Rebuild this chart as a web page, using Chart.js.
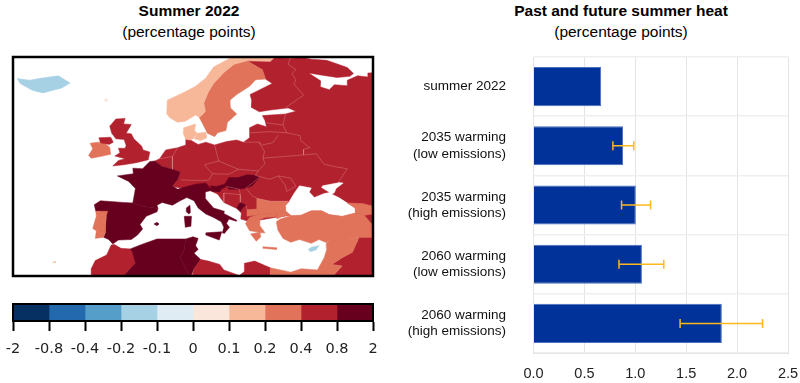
<!DOCTYPE html>
<html>
<head>
<meta charset="utf-8">
<script src="https://cdn.jsdelivr.net/npm/chart.js@4/dist/chart.umd.min.js"></script>
<style>
html, body { margin: 0; background: #fff; overflow: hidden; }
body { width: 800px; height: 383px; position: relative; font-family: "Liberation Sans", Arial, sans-serif; color: #000; }
canvas { position: absolute; }
.titulo { position: absolute; text-align: center; font-size: 15.5px; line-height: 21px; }
.titulo b { display: block; }
</style>
</head>
<body>
<div class="titulo" style="left:0;width:378px;top:0"><b>Summer 2022</b>(percentage points)</div>
<div class="titulo" style="left:442px;width:358px;top:0"><b>Past and future summer heat</b>(percentage points)</div>
<canvas id="mapa" width="384" height="235" style="left:0;top:50px"></canvas>
<canvas id="escala" width="384" height="65" style="left:0;top:295px"></canvas>
<canvas id="barras" width="400" height="333" style="left:400px;top:50px"></canvas>
<script>
// colour bins of the map and the colour bar
const binLabels = ['-2', '-0.8', '-0.4', '-0.2', '-0.1', '0', '0.1', '0.2', '0.4', '0.8', '2'];
const binColors = ['#053061', '#2369ad', '#549ec9', '#a6d0e4', '#e0ecf4', '#fbe6db', '#f7b799', '#e0735a', '#b2212e', '#67001f'];

// bar chart
const categorias = ['summer 2022', ['2035 warming', '(low emissions)'], ['2035 warming', '(high emissions)'], ['2060 warming', '(low emissions)'], ['2060 warming', '(high emissions)']];
const valores = [0.665, 0.88, 1.005, 1.065, 1.85];
const erroMin = [null, 0.78, 0.865, 0.84, 1.44];
const erroMax = [null, 0.985, 1.15, 1.28, 2.25];

// outlines, [lon, lat]
const europa = [[24.1,65.8],[23.5,67.5],[20.5,69.1],[22,70.5],[31,70.5],[31,69.8],[33,69.4],[36,69.2],[40,67.9],[41.2,66.8],[40.5,66.3],[38,66.1],[34.5,66.6],[32.5,66.9],[34.8,65.5],[34.7,64.4],[36.5,63.9],[37.5,64.8],[40,64.6],[40,65.6],[42,66.4],[44,66.2],[44,66.9],[46,67],[46,41],[29,41.2],[26,40.8],[21,40],[19.3,40.5],[19.4,41.6],[18.5,42.4],[16,43.5],[14.8,45],[13.7,45.5],[12,46],[8,46],[6.5,46.3],[6,46.5],[7,47.6],[7.5,49],[6,49.5],[4,50],[2.6,51],[3.5,51.4],[4.7,53],[7,53.4],[8.6,53.9],[8.6,55],[9.5,54.8],[11,54],[12.5,54.4],[14.2,53.9],[16.5,54.5],[18.5,54.8],[19.8,54.4],[21,55.2],[21,57],[22.5,57.7],[24.3,57.2],[24,58.3],[23.5,59.2],[28,59.5],[30,60],[28.5,60.6],[25,60.2],[22.9,59.9],[21.3,60.7],[21.4,62],[21.1,63],[22.8,63.8],[25.4,65],[24.1,65.8]];
const marNegro = [[28,41.7],[27.6,42.7],[28.6,43.5],[29.7,45.2],[30.7,46.5],[33,46.1],[32.6,45.4],[33.6,44.4],[35.5,45.1],[36.6,45.3],[35,46.2],[35.2,46.5],[38.5,47.1],[39.2,47],[37.8,46],[37.5,45.3],[37,45],[38.5,44.3],[40,43.4],[41.5,42.5],[41.6,41.6],[39,41],[36.5,41.3],[35,42],[33,42],[31,41.2],[29,41.2]];
const suecia = [[11.2,58.9],[12,57.5],[12.8,56],[14.2,55.4],[14.8,56.1],[16.4,56.5],[16.7,58],[18.5,59.5],[17.3,60.6],[17.2,62],[18.5,63],[21,64.5],[22.2,65.7],[24.1,65.8],[23.5,67.5],[20.5,69.1],[18,68.5],[16,67],[14,65],[13,63.5],[12.1,61.5],[12.4,60],[11.8,59.3]];
const noruega = [[4.9,59.5],[5.5,58.8],[7,58],[8.5,58.2],[10.5,59.3],[11.2,58.9],[11.8,59.3],[12.4,60],[12.1,61.5],[13,63.5],[14,65],[16,67],[18,68.5],[20.5,69.1],[25,69],[26,69.8],[29,69.6],[31,69.8],[31,71],[20,71],[17,69.5],[14,68],[12.5,66],[10.5,64.5],[8,63.3],[5,62]];
const jutlandia = [[8.6,54.9],[8.1,56],[8.2,57],[10.5,57.7],[10.3,56.5],[10.8,56],[10,55],[9.5,54.8]];
const zelandia = [[10.8,56],[12.5,56.2],[12.7,55.2],[11.5,54.7],[10.2,55]];
const faroe = [[-7.3,62],[-6.8,62.3],[-6.5,61.9],[-6.9,61.7]];
const britanha = [[-5.6,50.1],[-3.5,50.3],[-1,50.7],[1.3,51.2],[1.6,52.6],[0.3,53],[0,53.7],[-1.5,55],[-2,55.9],[-3,56],[-2,57.6],[-3.5,57.7],[-3.2,58.7],[-5,58.6],[-6.2,57.3],[-5.8,56],[-5,55],[-3.4,54.9],[-3,53.8],[-3.2,53.3],[-4.5,53.3],[-4.2,52.5],[-5.2,51.9],[-3.2,51.4],[-4.5,51.1]];
const irlanda = [[-6,52.2],[-6.2,53.5],[-7.3,54.3],[-8,54.3],[-8.5,54.4],[-10,54.2],[-9.5,53.2],[-10.3,52],[-9.8,51.5],[-8,51.8]];
const irlandaNorte = [[-8.3,55.2],[-6,55.3],[-5.5,54.4],[-6.3,54],[-8,54.3]];
const islandia = [[-24.2,65.9],[-21.7,65.6],[-20,65.9],[-16.2,66.4],[-13.9,65.1],[-15.5,64.2],[-19.2,63.3],[-21.3,63.8],[-23.6,65]];
const franca = [[-1.7,43.4],[-1.2,46],[-2.5,47.3],[-4.7,48.3],[-1.6,48.7],[-1.7,49.7],[0.2,49.6],[1.6,50.9],[2.6,51],[4,50],[6,49.5],[7.5,49],[7,47.6],[6,46.5],[7,45.9],[7,44],[7.5,43.8],[6,43],[4,43.5],[3,43],[3.2,42.4],[0.7,42.7]];
const espanha = [[-9.2,43.1],[-8,43.8],[-3.5,43.5],[-1.7,43.4],[0.7,42.7],[3.2,42.4],[3,41.8],[0.9,41],[-0.3,39.5],[0.2,38.7],[-0.8,37.6],[-2,36.8],[-4.5,36.7],[-5.6,36],[-6.4,36.8],[-7.4,37.2],[-7,38],[-7,39.5],[-6.8,41],[-8.1,41.9],[-8.9,41.9]];
const portugal = [[-8.9,41.9],[-8.1,41.9],[-6.6,41.9],[-6.9,41],[-7,39.5],[-7.1,38],[-7.4,37.2],[-9,37],[-8.8,38.4],[-9.5,38.8],[-8.8,41]];
const maiorca = [[2.4,39.6],[3,39.9],[3.4,39.6],[3,39.3]];
const italia = [[7,45.9],[7,44],[7.5,43.8],[8.8,44.4],[10.2,43.8],[11,42.5],[12.5,41.4],[14,40.8],[15.5,40],[16,39],[15.7,38],[16.1,37.9],[17.1,39],[16.5,39.7],[17,40.5],[18.4,40.1],[18.5,40.3],[16,41.5],[16.1,41.9],[14,42.5],[12.4,44.2],[12.4,45.4],[13.7,45.7],[12.5,47],[10.5,46.8],[8.5,46.3]];
const sicilia = [[12.5,38],[15.6,38.2],[15.1,36.7],[12.5,37.6]];
const sardenha = [[8.3,41],[9.7,41],[9.6,39.2],[8.5,39]];
const corsega = [[8.7,42.5],[9.4,43],[9.5,41.7],[9.2,41.4],[8.7,41.8]];
const hungria = [[16.2,46.9],[17,48],[18.8,48],[20.5,48.5],[22.1,48.4],[22.9,48],[21.5,46.5],[20.3,46.1],[18.8,45.9],[17,45.9]];
const eslovenia = [[13.4,46.5],[14.5,46.4],[16.2,46.8],[16.5,46.4],[15.5,45.9],[15.2,45.4],[13.7,45.5]];
const montenegro = [[18.5,42.5],[19.2,43.5],[20.3,43],[19.6,42.5],[19.3,41.9]];
const grecia = [[20.2,39.7],[21,38.4],[22.9,38.1],[21.2,37.8],[22.3,36.5],[23.2,37.3],[23,38],[24,38],[23,39.3],[23,40.4],[24,40.8],[26.2,40.9],[26.3,41.7],[24.5,41.5],[22.7,41.3],[21,40.8]];
const macedonia = [[20.5,41],[20.5,42.2],[22.4,42.3],[23,41.3]];
const bulgaria = [[22.4,42.3],[22.4,44.2],[25,43.7],[28.6,43.7],[27.9,42.8],[28,42],[26.3,41.7],[24.5,41.5],[23,41.3]];
const creta = [[23.6,35.5],[26.3,35.3],[26.2,35],[23.6,35.2]];
const turquia = [[26.2,40],[27,40.5],[29,41.1],[31,41.2],[33,42],[35,42],[36.5,41.3],[39,41],[41.6,41.6],[43.5,41.1],[44.7,39.7],[44.7,37.2],[42.3,37.2],[40,36.9],[36.6,36.9],[36,36.2],[34.5,36.8],[33,36.1],[30.7,36.8],[29,36.3],[27.5,37],[26.5,38.5]];
const tracia = [[26.3,41.7],[28,42],[29,41.2],[27.5,41],[26.3,40.5]];
const georgia = [[40,43.4],[41.5,42.5],[41.6,41.6],[43.5,41.1],[46,41.2],[46,42.6],[43,43.3]];
const caucaso = [[43.5,41.1],[46,41.5],[46,39],[44.7,39.7]];
const ira = [[44.7,39.7],[46,39],[46,36],[44.7,37.2]];
const iraque = [[42.3,37.2],[44.7,37.2],[46,36],[46,28],[33,28],[37,30],[39,32],[37,32.3],[39,33.5],[41,34.5]];
const levante = [[34.2,31.3],[35.5,33.5],[36,35],[35.9,36],[36.6,36.9],[40,36.9],[42.3,37.2],[41,34.5],[39,33.5],[37,32.3],[39,32],[37,30],[35,29.5],[34.9,29.5]];
const chipre = [[32.4,35],[33,35.4],[34.5,35.7],[33.9,34.9],[32.8,34.6]];
const marrocos = [[-9.8,31.5],[-9,33],[-6.8,34],[-5.9,35.8],[-5.3,35.9],[-4,35.2],[-2.2,35.1],[-1.8,34.5],[-1.2,32.5],[-3.5,30.2],[-5,29],[-9.8,29]];
const argelia = [[-2.2,35.1],[0,35.9],[3,36.9],[8.6,36.9],[8.3,35],[7.5,33.5],[9.5,30],[9.5,29],[-5,29],[-3.5,30.2],[-1.2,32.5],[-1.8,34.5]];
const tunisia = [[8.6,36.9],[10,37.3],[11,37],[10.5,35.7],[11,35],[10.2,34.3],[11.5,33.2],[10.2,31.5],[9.5,30],[7.5,33.5],[8.3,35]];
const libia = [[11.5,33.2],[13,32.9],[15.2,32.3],[16,31.3],[19,30.3],[20,31],[20,32.5],[22,32.9],[25,31.7],[25,29],[9.5,29],[10.2,31.5]];
const egito = [[25,31.7],[29,30.9],[31,31.5],[34.2,31.3],[34.9,29.5],[33,28],[25,28]];
const madeira = [[-17.3,32.7],[-16.7,32.8],[-16.8,32.6]];

// which bin each outline falls into, in drawing order (-1 = sea)
const regioes = [
  [europa, 8], [marNegro, -1], [iraque, 8], [suecia, 7], [noruega, 6], [jutlandia, 6], [zelandia, 6], [faroe, 5],
  [britanha, 8], [irlanda, 7], [irlandaNorte, 8], [islandia, 3], [franca, 9], [espanha, 9], [portugal, 7], [maiorca, 9],
  [italia, 9], [sicilia, 9], [sardenha, 9], [corsega, 9], [hungria, 9], [eslovenia, 9], [montenegro, 9],
  [grecia, 7], [macedonia, 7], [bulgaria, 7], [creta, 7], [turquia, 7], [tracia, 7], [georgia, 7], [caucaso, 8], [ira, 7],
  [levante, 7], [chipre, 3], [marrocos, 8], [argelia, 9], [tunisia, 9], [libia, 8], [egito, 7], [madeira, 6]
];

// country borders inside the red block
const fronteiras = [
  [[29,69.8],[28.5,68.5],[30,67.5],[29.2,66.8],[30,65.7],[29.6,64.9],[31.5,62.9],[27.8,60.5]],
  [[28,59.5],[27.5,57.5],[28.2,56.1],[30.8,55.6],[31,54.6],[32.7,53.4],[31.5,53.1],[31.5,52.1],[34,52.3],[35.5,50.4],[38,49.9],[40,49.6],[38.3,47.2]],
  [[24.3,57.9],[27.5,57.5]],
  [[21,56.1],[25,56.3],[28.2,56.1]],
  [[22.8,54.4],[23.5,53.9],[25.5,54.3],[26.6,55.7]],
  [[19.8,54.4],[22.8,54.4],[23.9,52.7],[23.6,51.5],[31.5,52.1]],
  [[23.6,51.5],[24,50.5],[22.7,49.2],[22.1,48.4],[24.9,47.7],[26.6,48.3],[29,47.9],[30,46.4],[28.2,45.5],[28,46.5],[26.6,48.3]],
  [[14.2,53.9],[14.7,52],[15,51],[18.8,49.5],[22.7,49.2]],
  [[15,51],[12.2,50.3],[13.8,48.7],[17,48.6],[18.8,49.5]],
  [[13.8,48.7],[13,47.5],[9.6,47.5],[7.6,47.6]],
  [[7,53.4],[6,51.8],[6,50.7],[6,49.5]],
  [[3.5,51.4],[6,51.8]],
  [[22.9,48],[20.3,46.1],[21.5,44.7],[22.6,44.2],[25,43.7],[28.6,43.7]],
  [[16.5,46.4],[19,45.9],[19.2,44.9],[16,45.2],[16,43.5]],
  [[19.2,44.9],[19.2,43.5]],
  [[20.3,43],[20.5,42.2]]
];

const quadro = {
  id: 'quadro',
  afterDraw(chart, args, opts) {
    const a = chart.chartArea, ctx = chart.ctx;
    ctx.save();
    ctx.strokeStyle = '#000';
    ctx.lineWidth = opts.width;
    ctx.strokeRect(a.left, a.top, a.right - a.left, a.bottom - a.top);
    ctx.restore();
  }
};

// fill 'shape' goes wrong when x is not monotonic, so fill the scaled points here
const preencher = {
  id: 'preencher',
  beforeDatasetDraw(chart, args) {
    const cor = chart.data.datasets[args.index].areaColor;
    if (!cor) return;
    const a = chart.chartArea, ctx = chart.ctx;
    ctx.save();
    ctx.beginPath();
    ctx.rect(a.left, a.top, a.right - a.left, a.bottom - a.top);
    ctx.clip();
    ctx.beginPath();
    args.meta.data.forEach((p, i) => i ? ctx.lineTo(p.x, p.y) : ctx.moveTo(p.x, p.y));
    ctx.closePath();
    ctx.fillStyle = cor;
    ctx.fill();
    ctx.restore();
  }
};

function pontos(lista) {
  return lista.map(p => ({ x: p[0], y: p[1] }));
}

// first dataset in the sort is painted last, so order runs backwards
const dadosMapa = regioes.map((r, i) => {
  const cor = r[1] < 0 ? '#fff' : binColors[r[1]];
  return {
    data: pontos(r[0].concat([r[0][0]])),
    showLine: true,
    areaColor: cor,
    borderColor: cor,
    borderWidth: 0.5,
    pointRadius: 0,
    order: 1000 - i
  };
});
fronteiras.forEach(f => dadosMapa.push({
  data: pontos(f),
  showLine: true,
  borderColor: 'rgba(235,170,170,0.55)',
  borderWidth: 0.6,
  pointRadius: 0,
  order: 1
}));

new Chart(document.getElementById('mapa'), {
  type: 'scatter',
  data: { datasets: dadosMapa },
  plugins: [quadro, preencher],
  options: {
    responsive: false,
    animation: false,
    layout: { padding: { left: 13, right: 11, top: 7, bottom: 9 } },
    scales: {
      x: { type: 'linear', min: -25, max: 45, display: false },
      y: { type: 'linear', min: 30.2, max: 69.8, display: false }
    },
    plugins: { legend: { display: false }, tooltip: { enabled: false }, quadro: { width: 2.5 } }
  }
});

new Chart(document.getElementById('escala'), {
  type: 'bar',
  data: {
    labels: [''],
    datasets: binColors.map(c => ({ data: [1], backgroundColor: c, barPercentage: 1, categoryPercentage: 1 }))
  },
  plugins: [quadro],
  options: {
    indexAxis: 'y',
    responsive: false,
    animation: false,
    layout: { padding: { left: 13, right: 11, top: 9, bottom: 0 } },
    scales: {
      x: {
        stacked: true,
        min: 0,
        max: binColors.length,
        afterBuildTicks(s) { s.ticks = binLabels.map((l, i) => ({ value: i })); },
        // the outer labels must not push the bar inwards
        afterFit(s) { s.height = 39; s.paddingLeft = 0; s.paddingRight = 0; },
        ticks: {
          autoSkip: false,
          maxRotation: 0,
          padding: 10,
          color: '#222',
          font: { family: 'DejaVu Sans', size: 14.5 },
          callback: (v, i) => binLabels[i]
        },
        grid: { drawOnChartArea: false, tickLength: 10, tickWidth: 2, tickColor: '#000' },
        border: { color: '#000', width: 2 }
      },
      y: { stacked: true, display: false }
    },
    plugins: { legend: { display: false }, tooltip: { enabled: false }, quadro: { width: 2 } }
  }
});

const dadosBarras = [{
  type: 'bar',
  data: valores,
  backgroundColor: '#003299',
  borderColor: '#4a6fbf',
  borderWidth: 1,
  barPercentage: 0.66,
  categoryPercentage: 1,
  order: 2
}];
valores.forEach((v, i) => {
  if (erroMin[i] === null) return;
  dadosBarras.push({
    type: 'scatter',
    data: [{ x: erroMin[i], y: categorias[i] }, { x: erroMax[i], y: categorias[i] }],
    showLine: true,
    borderColor: '#ffb81c',
    borderWidth: 1.5,
    pointStyle: 'line',
    pointRotation: 90,
    pointRadius: 4.5,
    pointBorderColor: '#ffb81c',
    pointBorderWidth: 1.5,
    order: 1
  });
});

new Chart(document.getElementById('barras'), {
  type: 'bar',
  data: { labels: categorias, datasets: dadosBarras },
  options: {
    indexAxis: 'y',
    responsive: false,
    animation: false,
    layout: { padding: { top: 7, right: 12, bottom: 0 } },
    scales: {
      x: {
        type: 'linear',
        min: 0,
        max: 2.5,
        afterFit(s) { s.height = 30; s.paddingLeft = 0; s.paddingRight = 0; },
        ticks: { stepSize: 0.5, padding: 12, color: '#222', font: { family: 'Liberation Sans', size: 14.5 }, callback: v => v.toFixed(1) },
        grid: { color: '#e4e4e4', drawTicks: false },
        border: { color: '#e4e4e4' }
      },
      y: {
        type: 'category',
        // tick padding also pads the top and bottom of a vertical axis, drop that
        afterFit(s) { s.width = 133.5; s.paddingTop = 0; s.paddingBottom = 0; },
        ticks: { padding: 27.5, color: '#111', font: { family: 'Liberation Sans', size: 13.5 }, autoSkip: false },
        grid: { color: '#efefef', lineWidth: 1.5, drawTicks: false },
        border: { color: '#e4e4e4' }
      }
    },
    plugins: { legend: { display: false }, tooltip: { enabled: false } }
  }
});
</script>
</body>
</html>
